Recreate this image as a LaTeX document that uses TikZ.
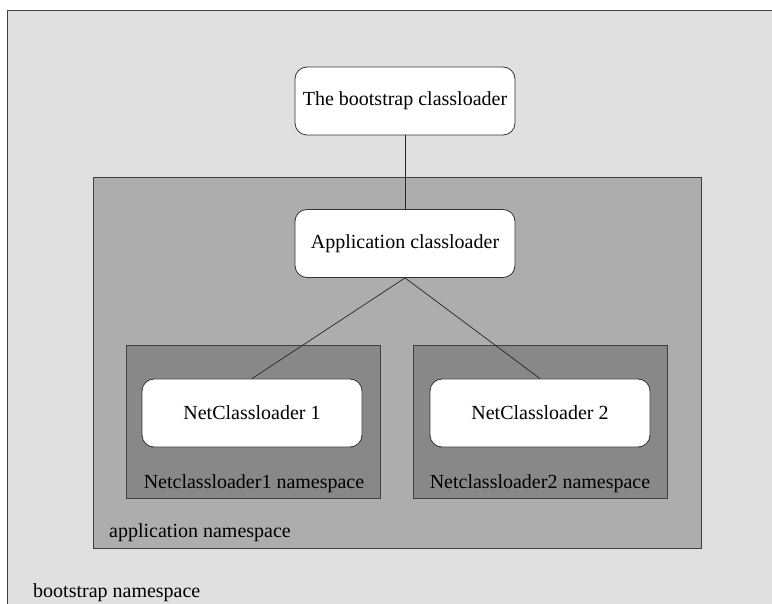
\documentclass[tikz,border=0pt]{standalone}
\usepackage{fontspec}
\setmainfont{Liberation Serif}
\definecolor{bootbg}{HTML}{E0E0E0}
\definecolor{appbg}{HTML}{ADADAD}
\definecolor{netbg}{HTML}{888888}
\definecolor{frame}{HTML}{404040}
\begin{document}
\begin{tikzpicture}[x=1pt,y=-1pt,
  every node/.style={font=\fontsize{20}{24}\selectfont},
  space/.style={draw=frame,line width=0.8pt,rectangle,inner sep=0pt,anchor=north west},
  loader/.style={draw=black!80,line width=0.8pt,fill=white,rounded corners=12pt,
    minimum width=220pt,minimum height=68pt,inner sep=0pt},
  label/.style={anchor=west,inner sep=0pt},
  link/.style={draw=black!85,line width=0.7pt}]
\clip (0,0) rectangle (772,604);
\fill[white] (0,0) rectangle (772,604);
% namespaces
\node[space,fill=bootbg,minimum width=800pt,minimum height=640pt] (bootns) at (7,10) {};
\node[space,fill=appbg,minimum width=608pt,minimum height=371pt] (appns) at (93,177) {};
\node[space,fill=netbg,minimum width=254pt,minimum height=153pt] (net1ns) at (126,345) {};
\node[space,fill=netbg,minimum width=254pt,minimum height=153pt] (net2ns) at (413,345) {};
% class loaders
\node[loader] (boot) at (405,101) {The bootstrap classloader};
\node[loader] (app) at (405,243.5) {Application classloader};
\node[loader] (net1) at (252,413) {NetClassloader 1};
\node[loader] (net2) at (540,413) {NetClassloader 2};
% parent links
\draw[link] (boot.south) -- (app.north);
\draw[link] (app.south) -- (net1.north);
\draw[link] (app.south) -- (net2.north);
% namespace captions
\node[anchor=center,inner sep=0pt] (net1lbl) at (254,484) {Netclassloader1 namespace};
\node[anchor=center,inner sep=0pt] (net2lbl) at (540,484) {Netclassloader2 namespace};
\node[label] (applbl) at (109,533) {application namespace};
\node[label] (bootlbl) at (33,593) {bootstrap namespace};
\end{tikzpicture}
\end{document}
